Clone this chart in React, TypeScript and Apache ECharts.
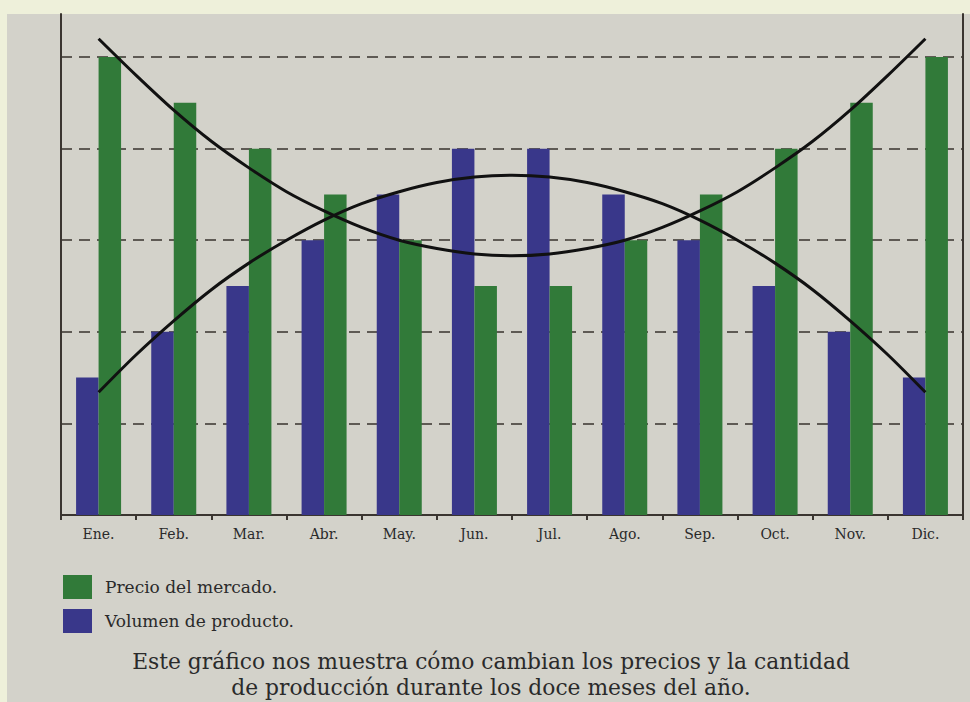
import React, { useEffect, useRef } from "react";
import * as echarts from "echarts";

const months = ["Ene.", "Feb.", "Mar.", "Abr.", "May.", "Jun.", "Jul.", "Ago.", "Sep.", "Oct.", "Nov.", "Dic."];
const volumen = [1.5, 2, 2.5, 3, 3.5, 4, 4, 3.5, 3, 2.5, 2, 1.5];
const precio = [5, 4.5, 4, 3.5, 3, 2.5, 2.5, 3, 3.5, 4, 4.5, 5];
// curves read at every half month (x = month index)
const curveX = [0, 0.5, 1, 1.5, 2, 2.5, 3, 3.5, 4, 4.5, 5, 5.5, 6, 6.5, 7, 7.5, 8, 8.5, 9, 9.5, 10, 10.5, 11];
const precioCurve = [5.2, 4.8, 4.42, 4.08, 3.79, 3.53, 3.32, 3.14, 3.0, 2.91, 2.85, 2.83, 2.85, 2.91, 3.0, 3.14, 3.32, 3.53, 3.79, 4.08, 4.42, 4.8, 5.2];
const volumenCurve = [1.34, 1.75, 2.12, 2.46, 2.75, 3.0, 3.22, 3.4, 3.53, 3.63, 3.69, 3.71, 3.69, 3.63, 3.53, 3.4, 3.22, 3.0, 2.75, 2.46, 2.12, 1.75, 1.34];
const legendNames = ["Precio del mercado.", "Volumen de producto."];
const caption = "Este gráfico nos muestra cómo cambian los precios y la cantidad\nde producción durante los doce meses del año.";

const FONT = "'DejaVu Serif', serif";
const GREEN = "#317a39";
const BLUE = "#39378a";
const AXIS = "#3a3530";

export default function App() {
  const ref = useRef<HTMLDivElement>(null);
  useEffect(() => {
    if (!ref.current) return;
    const chart = echarts.init(ref.current, null, { renderer: "svg" });
    chart.setOption({
      animation: false,
      backgroundColor: "#eef0da",
      graphic: [
        {
          type: "rect",
          z: -10,
          shape: { x: 7, y: 14, width: 963, height: 688 },
          style: { fill: "#d3d2ca" },
        },
      ],
      title: {
        text: caption,
        left: 486,
        top: 643,
        textAlign: "center",
        textStyle: { fontFamily: FONT, fontSize: 21.8, fontWeight: "normal", color: "#2a2a2a", lineHeight: 26 },
      },
      legend: {
        data: legendNames,
        orient: "vertical",
        left: 63,
        top: 575,
        padding: 0,
        itemWidth: 29,
        itemHeight: 24,
        itemGap: 10,
        icon: "rect",
        selectedMode: false,
        textStyle: { fontFamily: FONT, fontSize: 17, color: "#2a2a2a", padding: [0, 0, 0, 8] },
      },
      grid: { left: 61, right: 7, top: 14, bottom: 187 },
      xAxis: [
        {
          type: "category",
          data: months,
          boundaryGap: true,
          axisLine: { show: true, lineStyle: { color: AXIS, width: 2 } },
          axisTick: { show: true, alignWithLabel: false, length: 5, lineStyle: { color: AXIS, width: 2 } },
          axisLabel: { fontFamily: FONT, fontSize: 14, color: "#2a2a2a", margin: 12 },
        },
        {
          type: "value",
          min: -0.5,
          max: 11.5,
          show: false,
        },
      ],
      yAxis: [
        {
          type: "value",
          min: 0,
          max: 5.47,
          interval: 1,
          axisLine: { show: true, onZero: false, lineStyle: { color: AXIS, width: 2 } },
          axisTick: { show: false },
          axisLabel: { show: false },
          splitLine: {
            show: true,
            showMinLine: false,
            showMaxLine: false,
            lineStyle: { color: "#5e5a54", width: 2, type: [11, 7] },
          },
        },
        {
          type: "value",
          position: "right",
          min: 0,
          max: 5.47,
          interval: 1,
          axisLine: { show: true, onZero: false, lineStyle: { color: AXIS, width: 2 } },
          axisTick: { show: false },
          axisLabel: { show: false },
          splitLine: { show: false },
        },
      ],
      series: [
        {
          name: legendNames[1],
          type: "bar",
          data: volumen,
          barWidth: 22.5,
          barGap: "0%",
          itemStyle: { color: BLUE },
          z: 2,
        },
        {
          name: legendNames[0],
          type: "bar",
          data: precio,
          barWidth: 22.5,
          barGap: "0%",
          itemStyle: { color: GREEN },
          z: 2,
        },
        {
          name: "precioCurve",
          type: "line",
          xAxisIndex: 1,
          data: curveX.map((x, i) => [x, precioCurve[i]]),
          smooth: 0.3,
          symbol: "none",
          lineStyle: { color: "#111", width: 3 },
          z: 5,
        },
        {
          name: "volumenCurve",
          type: "line",
          xAxisIndex: 1,
          data: curveX.map((x, i) => [x, volumenCurve[i]]),
          smooth: 0.3,
          symbol: "none",
          lineStyle: { color: "#111", width: 3 },
          z: 5,
        },
      ],
    });
    return () => chart.dispose();
  }, []);
  return <div ref={ref} style={{ position: "absolute", left: 0, top: 0, width: 970, height: 702 }} />;
}
